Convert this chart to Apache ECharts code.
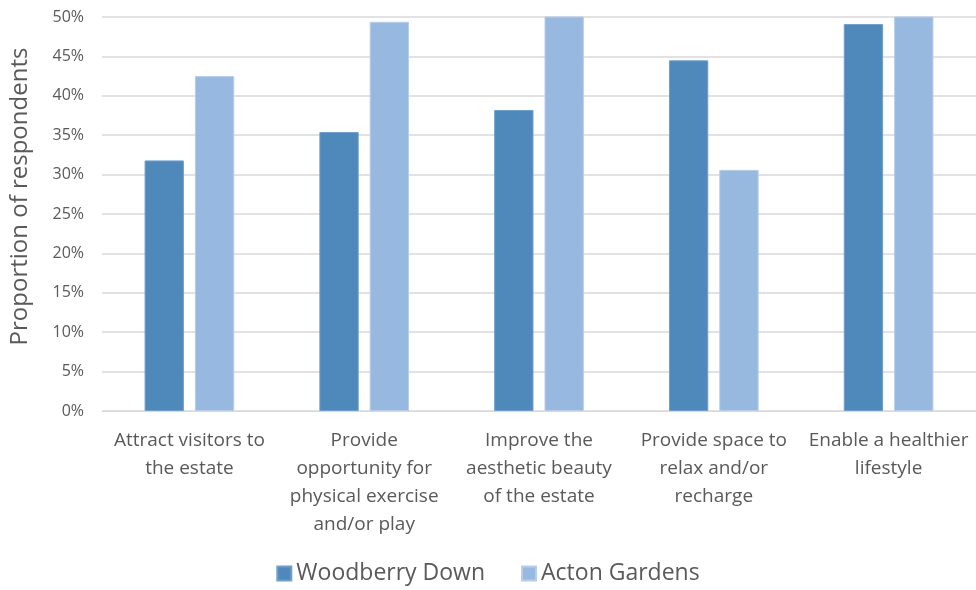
<!DOCTYPE html>
<html>
<head>
<meta charset="utf-8">
<script src="https://cdn.jsdelivr.net/npm/echarts@6/dist/echarts.min.js"></script>
<style>
  html, body { margin: 0; padding: 0; background: #fff; }
  #chart { width: 976px; height: 590px; }
</style>
</head>
<body>
<div id="chart"></div>
<script>
var categories = [
	'Attract visitors to\nthe estate',
	'Provide\nopportunity for\nphysical exercise\nand/or play',
	'Improve the\naesthetic beauty\nof the estate',
	'Provide space to\nrelax and/or\nrecharge',
	'Enable a healthier\nlifestyle'
];
var woodberryDown = [31.8, 35.4, 38.2, 44.5, 49.1];
// the two tallest Acton bars run past the top of the axis in the original
var actonGardens = [42.5, 49.4, 53, 30.6, 56];
var yTicks = { min: 0, max: 50, step: 5 };

var textColor = '#595959';
var fontName = '"Open Sans", "Noto Sans", sans-serif';

var myChart = echarts.init(document.getElementById('chart'));

var option = {
	animation: false,
	textStyle: { fontFamily: fontName },
	legend: {
		data: ['Woodberry Down', 'Acton Gardens'],
		bottom: 0,
		left: 'center',
		itemWidth: 14,
		itemHeight: 14,
		itemGap: 36,
		icon: 'rect',
		textStyle: { color: textColor, fontSize: 23, fontFamily: fontName }
	},
	grid: {
		left: 99,
		right: 0,
		top: 17,
		bottom: 179
	},
	xAxis: {
		type: 'category',
		data: categories,
		axisLine: { lineStyle: { color: '#d9d9d9', width: 1 } },
		axisTick: { show: false },
		axisLabel: {
			color: textColor,
			fontSize: 19,
			lineHeight: 28,
			margin: 16,
			interval: 0,
			fontFamily: fontName
		}
	},
	yAxis: {
		type: 'value',
		min: yTicks.min,
		max: yTicks.max,
		interval: yTicks.step,
		name: 'Proportion of respondents',
		nameLocation: 'middle',
		nameGap: 70,
		nameTextStyle: { color: textColor, fontSize: 24, fontFamily: fontName, padding: [0, 0, 0, 35] },
		axisLine: { show: false },
		axisTick: { show: false },
		axisLabel: {
			color: textColor,
			fontSize: 16,
			margin: 18,
			formatter: '{value}%',
			fontFamily: fontName
		},
		splitLine: { lineStyle: { color: '#d9d9d9', width: 1.5 } }
	},
	series: [{
		name: 'Woodberry Down',
		type: 'bar',
		data: woodberryDown,
		barWidth: '22.5%',
		barGap: '28%',
		clip: true,
		itemStyle: { color: '#4f89bc', borderColor: '#6f9fcb', borderWidth: 1 }
	}, {
		name: 'Acton Gardens',
		type: 'bar',
		data: actonGardens,
		barWidth: '22.5%',
		clip: true,
		itemStyle: { color: '#98b9df', borderColor: '#b7cde9', borderWidth: 1 }
	}]
};

myChart.setOption(option);
</script>
</body>
</html>
